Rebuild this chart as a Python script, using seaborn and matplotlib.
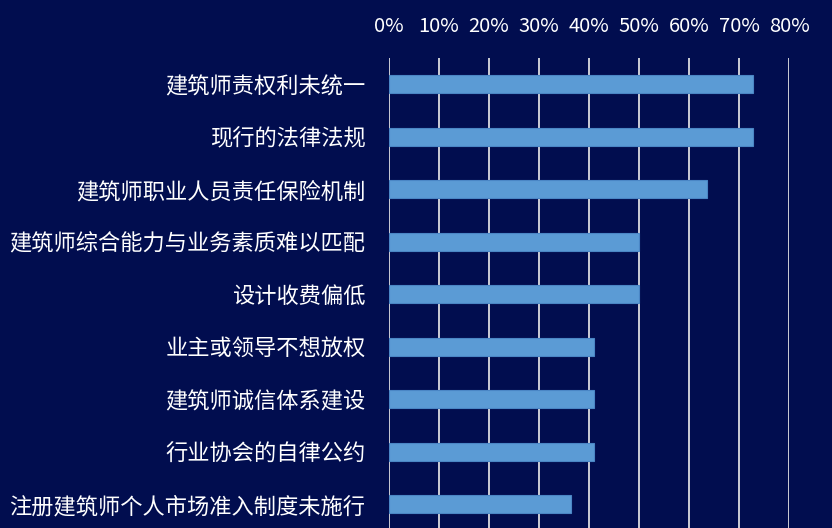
import matplotlib
matplotlib.use("Agg")
import matplotlib.pyplot as plt
import matplotlib.ticker as mticker
import seaborn as sns
import pandas as pd

categories = [
    "建筑师责权利未统一",
    "现行的法律法规",
    "建筑师职业人员责任保险机制",
    "建筑师综合能力与业务素质难以匹配",
    "设计收费偏低",
    "业主或领导不想放权",
    "建筑师诚信体系建设",
    "行业协会的自律公约",
    "注册建筑师个人市场准入制度未施行",
]
values = [0.727, 0.727, 0.636, 0.500, 0.500, 0.409, 0.409, 0.409, 0.364]
x_ticks = [0, 0.1, 0.2, 0.3, 0.4, 0.5, 0.6, 0.7, 0.8]

BG = "#010d4f"
BAR = "#5b9bd5"
GRID = "#dcdce0"

sns.set_theme(style="white")
plt.rcParams["font.family"] = ["Noto Sans CJK SC", "DejaVu Sans"]

df = pd.DataFrame({"cat": categories, "val": values})

fig = plt.figure(figsize=(8.32, 5.28), dpi=100)
fig.patch.set_facecolor(BG)
ax = fig.add_axes([389 / 832, (528 - 530.5) / 528, 400 / 832, 472.5 / 528])
ax.set_facecolor(BG)

sns.barplot(data=df, y="cat", x="val", orient="h", color=BAR, width=0.34,
            edgecolor="#4a86c5", linewidth=0.8, saturation=1, ax=ax)

ax.set_xlim(0, 0.8)
ax.set_ylim(8.5, -0.5)
ax.set_xticks(x_ticks)
ax.xaxis.set_major_formatter(mticker.FuncFormatter(lambda v, p: f"{v*100:.0f}%"))
ax.xaxis.tick_top()
ax.tick_params(axis="x", colors="white", labelsize=14.5, length=0, pad=15)
ax.tick_params(axis="y", colors="white", labelsize=16, length=0, pad=17)
for lab in ax.get_xticklabels() + ax.get_yticklabels():
    lab.set_color("white")
ax.set_xlabel("")
ax.set_ylabel("")
ax.set_axisbelow(True)
ax.xaxis.grid(True, color=GRID, linewidth=1.3)
ax.yaxis.grid(False)
for s in ax.spines.values():
    s.set_visible(False)

fig.savefig("out.png", dpi=100, facecolor=BG)
